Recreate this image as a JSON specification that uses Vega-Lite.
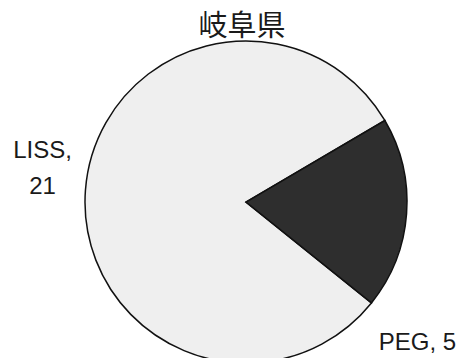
{
  "$schema": "https://vega.github.io/schema/vega-lite/v6.json",
  "width": 410,
  "height": 312,
  "autosize": {"type": "none"},
  "padding": {"left": 41, "top": 46, "right": 8, "bottom": 0},
  "background": "white",
  "view": {"stroke": null},
  "title": {"text": "岐阜県", "font": "Noto Sans CJK JP", "fontSize": 29, "fontWeight": "normal", "color": "#1a1a1a", "anchor": "middle", "offset": 8, "dy": 12, "dx": -4},
  "data": {"values": [
    {"method": "LISS", "count": 21},
    {"method": "PEG", "count": 5}
  ]},
  "encoding": {
    "theta": {"field": "count", "type": "quantitative", "stack": true, "scale": {"range": [1.040, 7.323]}},
    "order": {"field": "method", "sort": "descending"}
  },
  "layer": [
    {
      "mark": {"type": "arc", "outerRadius": 161, "stroke": "#111111", "strokeWidth": 1.5},
      "encoding": {
        "color": {"field": "method", "type": "nominal", "scale": {"domain": ["LISS", "PEG"], "range": ["#efefef", "#2e2e2e"]}, "legend": null}
      }
    },
    {
      "transform": [{"calculate": "[datum.method + ',', '' + datum.count]", "as": "lab"}],
      "mark": {"type": "text", "radius": 195, "font": "Liberation Sans", "fontSize": 24, "color": "#1a1a1a", "align": "center", "baseline": "middle", "lineHeight": 36, "dx": -9, "dy": -37},
      "encoding": {
        "text": {"condition": {"test": "datum.method === 'LISS'", "field": "lab"}, "value": ""}
      }
    },
    {
      "transform": [{"calculate": "datum.method + ', ' + datum.count", "as": "lab"}],
      "mark": {"type": "text", "radius": 195, "font": "Liberation Sans", "fontSize": 24, "color": "#1a1a1a", "align": "center", "baseline": "middle", "dx": -23, "dy": 127},
      "encoding": {
        "text": {"condition": {"test": "datum.method === 'PEG'", "field": "lab"}, "value": ""}
      }
    }
  ]
}
